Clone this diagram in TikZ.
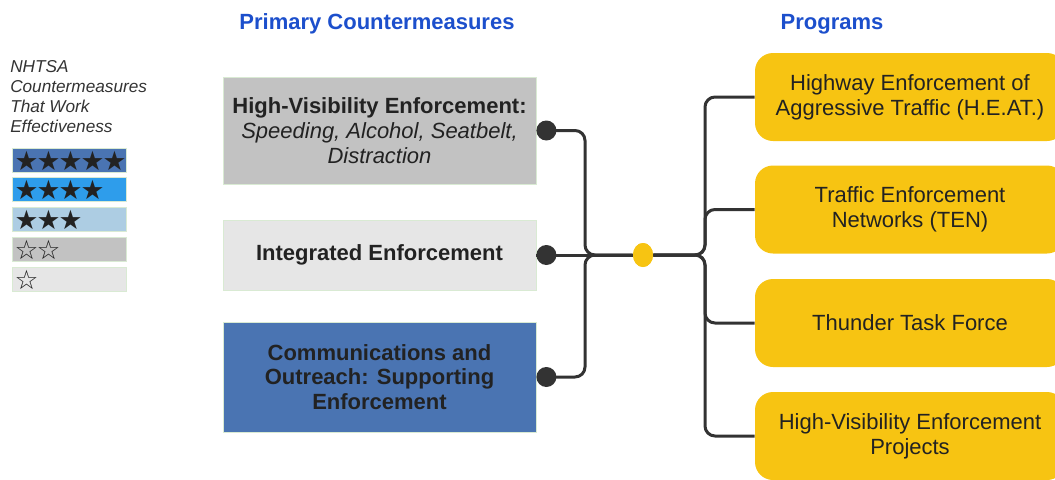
\documentclass[tikz,border=0pt]{standalone}
\usepackage{fontspec}
\setmainfont{Liberation Sans}
\newfontfamily\estrellas{DejaVu Sans}
\usepackage{tikz}
\usetikzlibrary{positioning,shapes.geometric}
\definecolor{titulo}{HTML}{1C4FCC}
\definecolor{linea}{HTML}{333333}
\definecolor{oro}{HTML}{F7C412}
\definecolor{azul}{HTML}{4A74B2}
\definecolor{celeste}{HTML}{2E9DEB}
\definecolor{palido}{HTML}{ADCDE3}
\definecolor{gris}{HTML}{C2C2C2}
\definecolor{claro}{HTML}{E6E6E6}
\definecolor{borde}{HTML}{D9EAD3}
\definecolor{texto}{HTML}{222222}

\begin{document}
\begin{tikzpicture}[x=0.75pt, y=-0.75pt,
  titulo/.style={font=\fontsize{16.5}{19}\selectfont\bfseries, text=titulo},
  medida/.style={draw=borde, line width=0.6pt, minimum width=234.75pt, align=center, text=texto, font=\fontsize{16.5}{18.5}\selectfont},
  programa/.style={fill=oro, rounded corners=13.5pt, minimum width=232.5pt, minimum height=66pt, align=center, text=texto, font=\fontsize{16.5}{18.5}\selectfont},
  barra/.style={draw=borde, line width=0.6pt, minimum width=85.5pt, minimum height=18pt},
  estrella/.style={inner sep=0pt, font=\estrellas\fontsize{20}{20}\selectfont, text=texto},
  punto/.style={circle, fill=linea, minimum size=15pt, inner sep=0pt},
  enlace/.style={draw=linea, line width=2.25pt, rounded corners=7.5pt}
]
\clip (0,0) rectangle (1055,479);

% titles
\node[titulo] (tprim) at (377,24) {Primary Countermeasures};
\node[titulo] (tprog) at (832,24) {Programs};

% legend
\node[anchor=north west, align=left, inner sep=0pt, text=linea,
  font=\fontsize{12.9}{15}\selectfont\itshape] (leyenda) at (10,60)
  {NHTSA\\Countermeasures\\That Work\\Effectiveness};
\node[barra, fill=azul] (b5) at (69,160) {};
\node[barra, fill=celeste] (b4) at (69,189.5) {};
\node[barra, fill=palido] (b3) at (69,219) {};
\node[barra, fill=gris] (b2) at (69,249) {};
\node[barra, fill=claro] (b1) at (69,279) {};
\foreach \b/\n/\s in {b5/5/★, b4/4/★, b3/3/★, b2/2/☆, b1/1/☆}
  \foreach \i in {1,...,\n}
    \node[estrella] at ([xshift={(22*\i-7)*0.75pt}, yshift=-0.5pt]\b.west) {\s};

% countermeasures
\node[medida, fill=gris, minimum height=80.25pt] (hve) at (379.5,130.5)
  {\bfseries High-Visibility Enforcement:\\\itshape Speeding, Alcohol, Seatbelt,\\\itshape Distraction};
\node[medida, fill=claro, minimum height=52.5pt] (ie) at (379.5,255)
  {\bfseries Integrated Enforcement};
\node[medida, fill=azul, minimum height=82.5pt] (co) at (379.5,377)
  {\bfseries Communications and\\\bfseries Outreach: Supporting\\\bfseries Enforcement};

% programs
\node[programa] (heat) at (910,97) {Highway Enforcement of\\Aggressive Traffic (H.E.AT.)};
\node[programa] (ten) at (910,209.5) {Traffic Enforcement\\Networks (TEN)};
\node[programa] (ttf) at (910,323) {Thunder Task Force};
\node[programa] (hvep) at (910,436) {High-Visibility Enforcement\\Projects};

% connectors
\node[ellipse, fill=oro, minimum width=15pt, minimum height=18pt, inner sep=0pt] (hub) at (643,255) {};
\coordinate (izq) at (585,255);
\coordinate (der) at (705,255);
\draw[enlace] (hve.east) ++(10,0) -- (izq |- hve.east) -- (izq) -- (hub);
\draw[enlace] (co.east) ++(10,0) -- (izq |- co.east) -- (izq) -- (hub);
\draw[enlace] (ie.east) -- (hub);
\draw[enlace] (hub) -- (der) |- (heat.west);
\draw[enlace] (hub) -- (der) |- (ten.west);
\draw[enlace] (hub) -- (der) |- (ttf.west);
\draw[enlace] (hub) -- (der) |- (hvep.west);
\node[punto] (d1) at ([xshift=7.5pt]hve.east) {};
\node[punto] (d2) at ([xshift=7.5pt]ie.east) {};
\node[punto] (d3) at ([xshift=7.5pt]co.east) {};
\node[ellipse, fill=oro, minimum width=15pt, minimum height=18pt, inner sep=0pt] at (hub) {};
\end{tikzpicture}
\end{document}
